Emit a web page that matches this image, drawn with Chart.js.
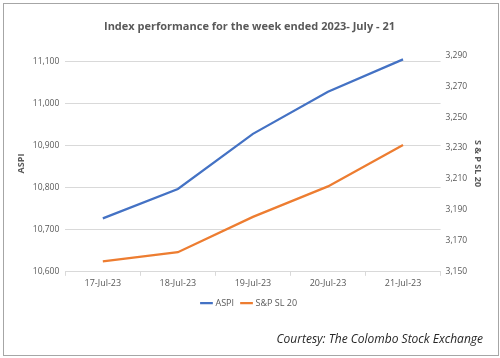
<!DOCTYPE html>
<html>
<head>
<meta charset="utf-8">
<script src="https://cdn.jsdelivr.net/npm/chart.js@4.4.0/dist/chart.umd.min.js"></script>
<style>
  html, body { margin: 0; padding: 0; background: #fff; }
  #wrap { position: absolute; left: 3px; top: 3px; width: 494px; height: 351px; border: 1px solid #a6a6a6; }
</style>
</head>
<body>
<div id="wrap"><canvas id="myChart" width="494" height="351"></canvas></div>
<script>
const days = ["17-Jul-23", "18-Jul-23", "19-Jul-23", "20-Jul-23", "21-Jul-23"];
const aspi = [10727, 10797, 10928, 11028, 11105];
const spsl20 = [3156.8, 3162.7, 3185.5, 3205.2, 3232];
const aspiTicks = [10600, 10700, 10800, 10900, 11000, 11100];

const ctx = document.getElementById("myChart").getContext("2d");
new Chart(ctx, {
  type: "line",
  data: {
    labels: days,
    datasets: [
      {
        label: "ASPI",
        data: aspi,
        yAxisID: "y",
        borderColor: "#4472c4",
        backgroundColor: "#4472c4",
        borderWidth: 2.25,
        pointRadius: 0,
        tension: 0,
      },
      {
        label: "S&P SL 20",
        data: spsl20,
        yAxisID: "y1",
        borderColor: "#ed7d31",
        backgroundColor: "#ed7d31",
        borderWidth: 2.25,
        pointRadius: 0,
        tension: 0,
      },
    ],
  },
  options: {
    responsive: false,
    animation: false,
    layout: { padding: { left: 12, right: 15, top: 4, bottom: 2 } },
    plugins: {
      title: {
        display: true,
        text: "Index performance for the week ended 2023- July - 21",
        color: "#595959",
        font: { family: "Open Sans", size: 11, weight: "bold" },
        padding: { top: 12, bottom: 22 },
      },
      subtitle: {
        display: true,
        text: "Courtesy: The Colombo Stock Exchange",
        position: "bottom",
        align: "end",
        color: "#262626",
        font: { family: "Open Sans", size: 12, style: "italic" },
        padding: { top: 15, bottom: 6 },
      },
      legend: {
        position: "bottom",
        labels: {
          usePointStyle: true,
          pointStyle: "line",
          boxWidth: 20,
          color: "#595959",
          font: { family: "Open Sans", size: 9 },
          padding: 8,
        },
      },
      tooltip: { enabled: false },
    },
    scales: {
      x: {
        offset: true,
        grid: { drawOnChartArea: false, drawTicks: true, tickLength: 4, color: "#d9d9d9", offset: true },
        border: { display: true, color: "#d9d9d9" },
        ticks: { color: "#595959", font: { family: "Open Sans", size: 9 }, maxRotation: 0, padding: 2 },
      },
      y: {
        position: "left",
        min: 10600,
        max: 11115,
        afterBuildTicks: (axis) => {
          axis.ticks = aspiTicks.map((v) => ({ value: v }));
        },
        grid: { color: "#d9d9d9", drawTicks: false },
        border: { display: false },
        ticks: {
          color: "#595959",
          font: { family: "Open Sans", size: 8.5 },
          padding: 6,
          callback: (v) => v.toLocaleString("en-US"),
        },
        title: {
          display: true,
          text: "ASPI",
          color: "#595959",
          font: { family: "Open Sans", size: 9, weight: "bold" },
          padding: { top: 0, bottom: 0 },
        },
      },
      y1: {
        position: "right",
        min: 3150,
        max: 3290,
        ticks: {
          stepSize: 20,
          color: "#595959",
          font: { family: "Open Sans", size: 8.5 },
          padding: 5,
          callback: (v) => v.toLocaleString("en-US"),
        },
        grid: { drawOnChartArea: false, drawTicks: false },
        border: { display: false },
        title: {
          display: true,
          text: "S & P SL 20",
          color: "#595959",
          font: { family: "Open Sans", size: 9, weight: "bold" },
          padding: { top: 0, bottom: 0 },
        },
      },
    },
  },
});
</script>
</body>
</html>
